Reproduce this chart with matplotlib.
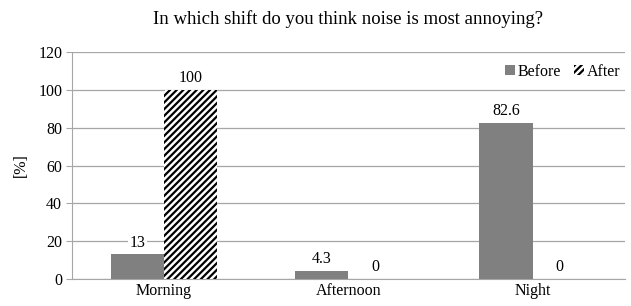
import matplotlib.pyplot as plt
import numpy as np

plt.rcParams['font.family'] = ['Liberation Serif', 'DejaVu Serif']
plt.rcParams['hatch.linewidth'] = 1.6

categories = ["Morning", "Afternoon", "Night"]
before = [13, 4.3, 82.6]
after = [100, 0, 0]
yticks = [0, 20, 40, 60, 80, 100, 120]

fig = plt.figure(figsize=(6.31, 3.06), dpi=100)
ax = fig.add_axes([0.114, 0.088, 0.876, 0.742])

x = np.arange(len(categories))
w = 0.29
ax.bar(x - w / 2, before, w, color="#808080", label="Before", zorder=3)
ax.bar(x + w / 2, after, w, color="white", edgecolor="black", linewidth=0,
       hatch="/////", label="After", zorder=3)

for xi, v in zip(x - w / 2, before):
    ax.text(xi, v + 2, f"{v:g}", ha="center", va="bottom", fontsize=11.5,
            zorder=4, bbox=dict(facecolor="white", edgecolor="none", pad=1))
for xi, v in zip(x + w / 2, after):
    ax.text(xi, v + 2, f"{v:g}", ha="center", va="bottom", fontsize=11.5,
            zorder=4, bbox=dict(facecolor="white", edgecolor="none", pad=1))

ax.set_xlim(-0.5, 2.5)
ax.set_ylim(0, 120)
ax.set_yticks(yticks)
ax.set_xticks(x)
ax.set_xticklabels(categories)
ax.yaxis.grid(True, color="#a6a6a6", lw=0.9, zorder=0)
ax.tick_params(axis="x", length=0, labelsize=11.5, pad=3)
ax.tick_params(axis="y", length=4, color="#a6a6a6", labelsize=11.5, pad=3)
for s in ["top", "right"]:
    ax.spines[s].set_visible(False)
ax.spines["left"].set_color("#a6a6a6")
ax.spines["bottom"].set_color("#a6a6a6")
ax.set_ylabel("[%]", fontsize=11.5, labelpad=7)

ax.set_title("In which shift do you think noise is most annoying?", fontsize=13.5, pad=20)
ax.legend(loc="upper right", bbox_to_anchor=(1.01, 0.99), frameon=False, ncol=2,
          fontsize=11.5, handlelength=0.6, handleheight=0.6, handletextpad=0.2,
          columnspacing=0.8, borderaxespad=0.2)

fig.savefig("out.png", dpi=100)
